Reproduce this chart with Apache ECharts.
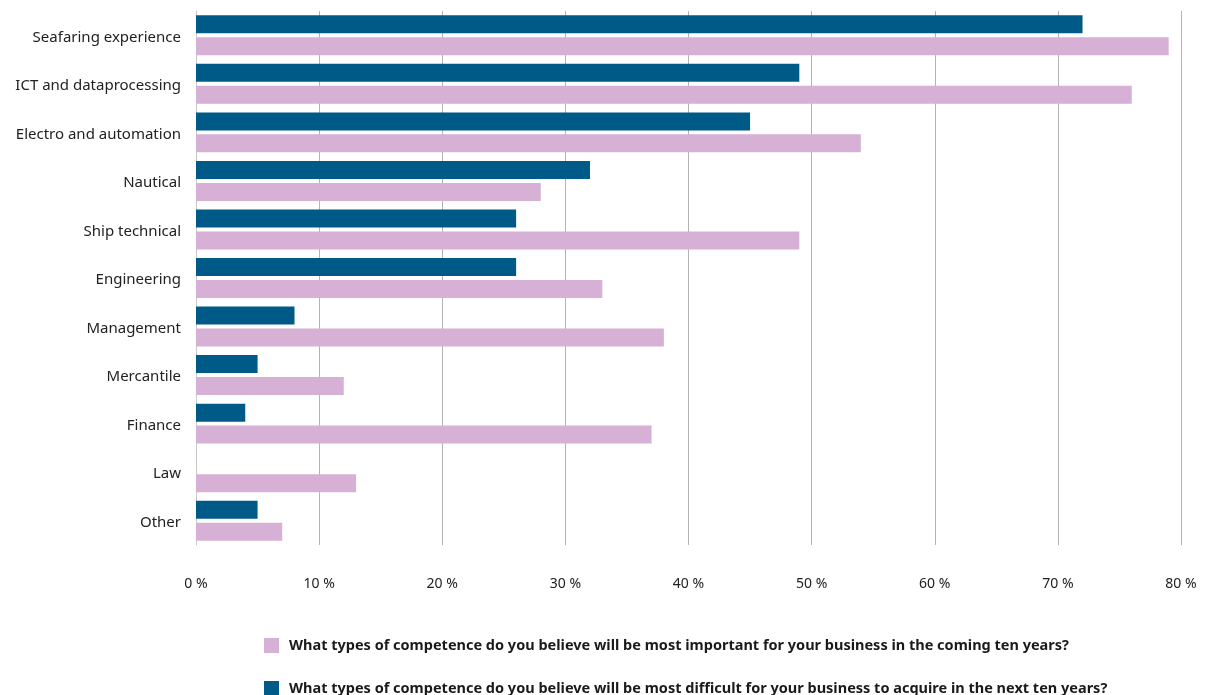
<!DOCTYPE html>
<html>
<head>
<meta charset="utf-8">
<script src="https://cdn.jsdelivr.net/npm/echarts@6/dist/echarts.min.js"></script>
<style>
  html, body { margin: 0; padding: 0; background: #fff; }
  #chart { width: 1205px; height: 695px; }
</style>
</head>
<body>
<div id="chart"></div>
<script>
const categories = ['Seafaring experience', 'ICT and dataprocessing', 'Electro and automation', 'Nautical', 'Ship technical', 'Engineering', 'Management', 'Mercantile', 'Finance', 'Law', 'Other'];
const mostDifficult = [72, 49, 45, 32, 26, 26, 8, 5, 4, 0, 5];
const mostImportant = [79, 76, 54, 28, 49, 33, 38, 12, 37, 13, 7];
const xTicks = [0, 10, 20, 30, 40, 50, 60, 70, 80];

const nameImportant = 'What types of competence do you believe will be most important for your business in the coming ten years?';
const nameDifficult = 'What types of competence do you believe will be most difficult for your business to acquire in the next ten years?';

const chart = echarts.init(document.getElementById('chart'));
const font = '"Noto Sans", "Open Sans", sans-serif';

// One legend block per series so the two entries stack with wide spacing
function legendBlock(name, top) {
  return {
    left: 259,
    top: top,
    itemWidth: 15,
    itemHeight: 15,
    icon: 'rect',
    data: [name],
    textStyle: { fontFamily: font, fontSize: 14.5, fontWeight: 'bold', color: '#1a1a1a', padding: [0, 0, 0, 5] }
  };
}

chart.setOption({
  animation: false,
  textStyle: { fontFamily: font },
  grid: { left: 196, right: 24, top: 11, bottom: 150, containLabel: false },
  legend: [legendBlock(nameImportant, 633), legendBlock(nameDifficult, 676)],
  xAxis: {
    type: 'value',
    min: xTicks[0],
    max: xTicks[xTicks.length - 1],
    interval: 10,
    axisLine: { show: false },
    axisTick: { show: false },
    axisLabel: { margin: 32, fontSize: 14, color: '#222', fontFamily: font, formatter: v => v + ' %' },
    splitLine: { show: true, lineStyle: { color: '#b3b3b3', width: 1 } }
  },
  yAxis: {
    type: 'category',
    inverse: true,
    data: categories,
    axisLine: { show: true, lineStyle: { color: '#c8c8c8', width: 1 } },
    axisTick: { show: false },
    // labels sit slightly below the band centre
    axisLabel: { margin: 15, fontSize: 15, color: '#222', fontFamily: font, verticalAlign: 'top', lineHeight: 4 }
  },
  series: [
    {
      name: nameDifficult,
      type: 'bar',
      data: mostDifficult,
      barWidth: 18,
      barGap: '22%',
      itemStyle: { color: '#005a87' }
    },
    {
      name: nameImportant,
      type: 'bar',
      data: mostImportant,
      barWidth: 18,
      barGap: '22%',
      itemStyle: { color: '#d6b1d5' }
    }
  ]
});
</script>
</body>
</html>
